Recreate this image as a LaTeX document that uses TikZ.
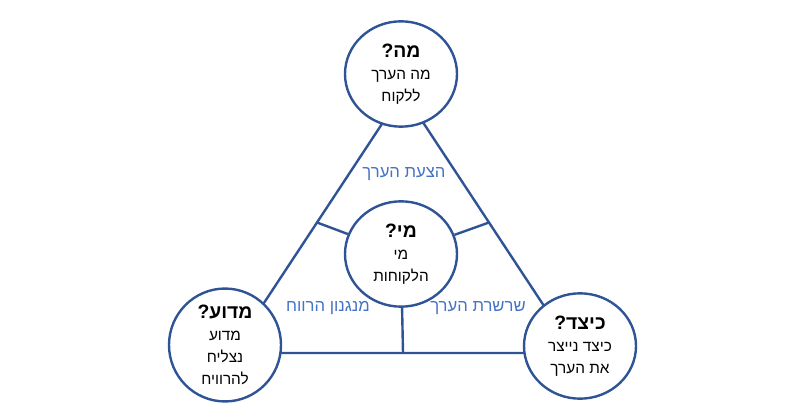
\documentclass[tikz,border=0pt]{standalone}
\usepackage{fontspec}
\setmainfont{Liberation Sans}
\newfontfamily\hebfont[Script=Hebrew]{Liberation Sans}
\TeXXeTstate=1
\usetikzlibrary{shapes.geometric,calc,positioning}
\definecolor{navy}{RGB}{47,84,150}
\definecolor{lblue}{RGB}{68,114,196}
\newcommand{\heb}[1]{{\hebfont\beginR #1\endR}}
\newcommand{\ttl}[1]{{\hebfont\bfseries\fontsize{14.5}{17}\selectfont\beginR #1\endR}}
\tikzset{
  qbox/.style={draw=navy,line width=1.8pt,fill=white,ellipse,minimum width=84pt,minimum height=79pt,inner sep=0pt,align=center,font=\hebfont\fontsize{11.5}{16.5}\selectfont},
  lbl/.style={text=lblue,font=\hebfont\fontsize{12.5}{14}\selectfont}
}

\begin{document}
\begin{tikzpicture}[x=0.75pt,y=-0.75pt]
\useasboundingbox (0,0) rectangle (806,416);
\coordinate (A) at (403,92);
\coordinate (B) at (231,353);
\coordinate (C) at (575,353);
\draw[navy,line width=1.8pt,line join=round] (A) -- (B) -- (C) -- cycle;

\node[qbox] (mi) at (401,254) {\ttl{מי?}\\\heb{מי}\\\heb{הלקוחות}};
\foreach \u/\v in {A/B,A/C,B/C}
    \draw[navy,line width=1.8pt] (mi) -- ($(\u)!0.5!(\v)$);

\node[qbox] (ma) at (401,74) {\ttl{מה?}\\\heb{מה הערך}\\\heb{ללקוח}};
\node[qbox] (madua) at (225,345) {\ttl{מדוע?}\\\heb{מדוע}\\\heb{נצליח}\\\heb{להרוויח}};
\node[qbox] (keitzad) at (580,346) {\ttl{כיצד?}\\\heb{כיצד נייצר}\\\heb{את הערך}};

\node[lbl] (hatzaa) at (404,174) {\heb{הצעת הערך}};
\node[lbl] (revach) at (328,308) {\heb{מנגנון הרווח}};
\node[lbl] (sharsheret) at (478,308) {\heb{שרשרת הערך}};
\end{tikzpicture}
\end{document}
